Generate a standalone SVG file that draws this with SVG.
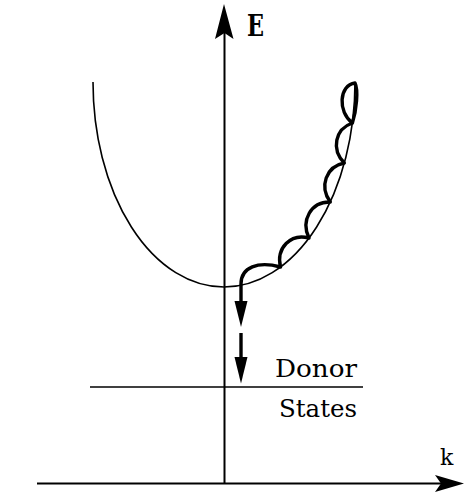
<svg xmlns="http://www.w3.org/2000/svg" width="464" height="493" viewBox="0 0 464 493">
<style>
.axis{stroke:#000;stroke-width:2;fill:none}
.thin{stroke:#000;stroke-width:1.6;fill:none}
.thick{stroke:#000;stroke-width:3.4;fill:none;stroke-linecap:round;stroke-linejoin:round}
.head{fill:#000;stroke:none}
.lbl{font-family:'DejaVu Serif',serif;fill:#000}
</style>
<rect width="464" height="493" fill="#fff"/>
<g id="connectors">
  <line class="axis" x1="224.5" y1="30" x2="224.5" y2="484"/>
  <polygon class="head" points="224,4 233.5,39 224.5,33 215,39"/>
  <line class="axis" x1="37" y1="483.5" x2="445" y2="483.5"/>
  <polygon class="head" points="464,483.5 435,475 441,483.5 435,492"/>
  <line class="thin" x1="90" y1="387" x2="363" y2="387"/>
</g>
<g id="band">
  <path class="thin" d="M93 82 A131 205 0 0 0 355 82"/>
</g>
<g id="relaxation">
  <path class="thick" d="M241 303 L241 284 C241 267 258 261 280.5 267 C276 248 290.5 233 309 238 C300.5 220.5 311 201.5 330.3 202 C319 186.5 326 166.5 344.3 163 C331 149.5 335 129 352.4 123 C337.5 112 339 85 355 83 C358.5 90 356.5 110 352.4 123"/>
  <polygon class="head" points="234.5,301 247.5,301 241,327"/>
  <line x1="241" y1="333" x2="241" y2="360" stroke="#000" stroke-width="3.4"/>
  <polygon class="head" points="234.5,357 247.5,357 241,383.5"/>
</g>
<g id="labels">
  <text class="lbl" x="247" y="36" font-size="30" font-weight="bold" textLength="17" lengthAdjust="spacingAndGlyphs">E</text>
  <text class="lbl" x="440" y="465" font-size="22">k</text>
  <text class="lbl" x="275" y="377" font-size="25" textLength="82" lengthAdjust="spacingAndGlyphs">Donor</text>
  <text class="lbl" x="279" y="417" font-size="25" textLength="78" lengthAdjust="spacingAndGlyphs">States</text>
</g>
</svg>
